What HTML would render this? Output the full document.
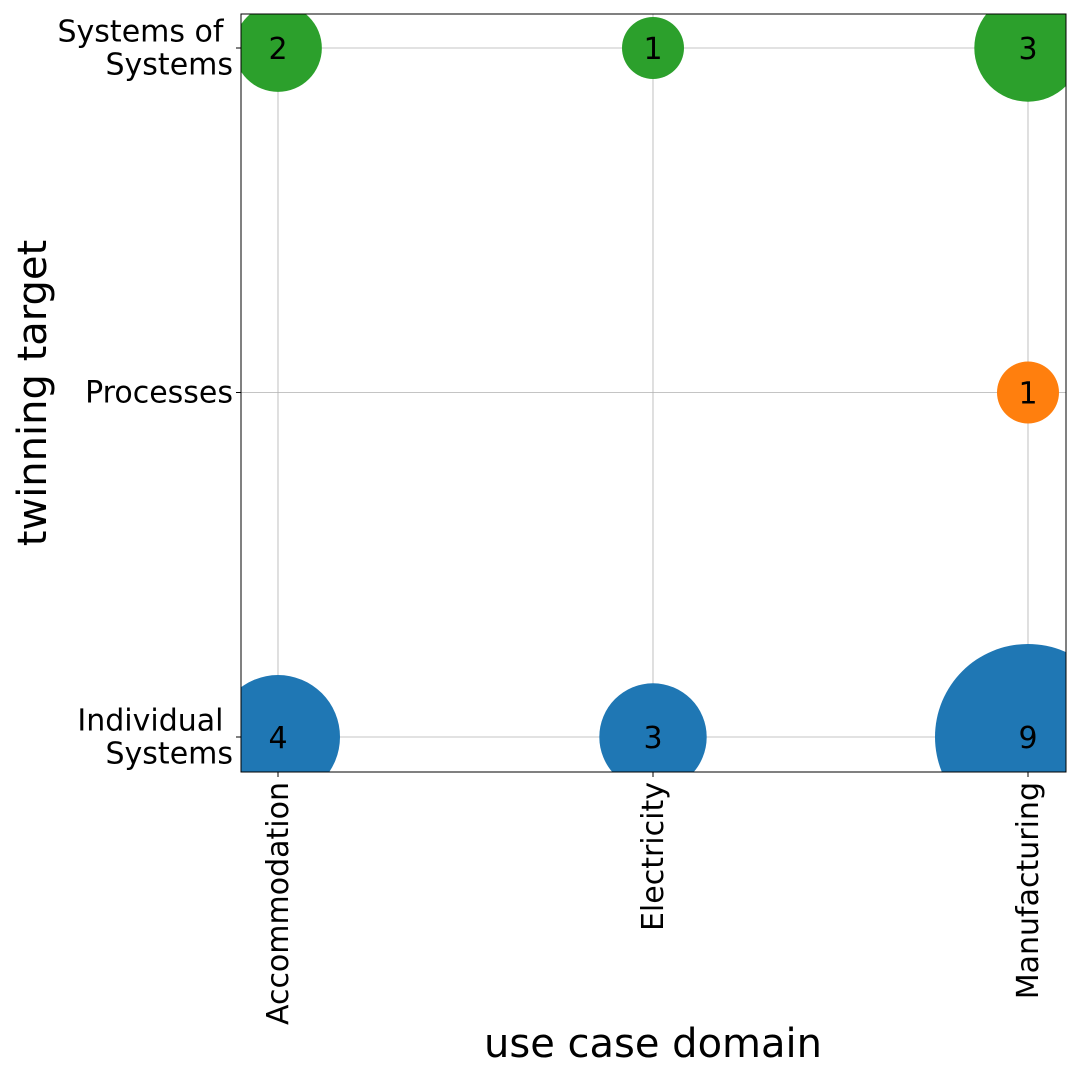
<!DOCTYPE html>
<html><head><meta charset="utf-8"><style>
html,body{margin:0;padding:0;background:#fff;}
svg{display:block;font-family:"DejaVu Sans","Liberation Sans",sans-serif;}
</style></head><body>
<svg id="chart" width="1080" height="1080" viewBox="0 0 1080 1080">
<defs><clipPath id="plotclip"><rect x="241" y="14" width="825" height="758"/></clipPath></defs>
<rect x="0" y="0" width="1080" height="1080" fill="#fff"/>
<g id="grid"></g>
<g id="marks" clip-path="url(#plotclip)"></g>
<g id="labels"></g>
<rect x="241" y="14" width="825" height="758" fill="none" stroke="#000" stroke-width="1"/>
<g id="xticks"></g>
<g id="yticks"></g>
<text x="653" y="1057" font-size="40" text-anchor="middle">use case domain</text>
<text transform="translate(46,393) rotate(-90)" font-size="40" text-anchor="middle">twinning target</text>
</svg>
<script>
const xCategories = ["Accommodation","Electricity","Manufacturing"];
const yCategories = ["Individual Systems","Processes","Systems of Systems"];
const yTickLines = [["Individual ","Systems"],["Processes"],["Systems of ","Systems"]];
const pointX = ["Accommodation","Electricity","Manufacturing","Manufacturing","Accommodation","Electricity","Manufacturing"];
const pointY = ["Systems of Systems","Systems of Systems","Systems of Systems","Processes","Individual Systems","Individual Systems","Individual Systems"];
const pointCount = [2,1,3,1,4,3,9];
const colorByY = {"Individual Systems":"#1f77b4","Processes":"#ff7f0e","Systems of Systems":"#2ca02c"};

const NS="http://www.w3.org/2000/svg";
function xScale(c){return 278 + xCategories.indexOf(c)*375;}
function yScale(c){return 737 - yCategories.indexOf(c)*344.5;}
function rScale(n){return 31*Math.sqrt(n);}
function mk(tag,attrs,parent){const e=document.createElementNS(NS,tag);for(const k in attrs)e.setAttribute(k,attrs[k]);parent.appendChild(e);return e;}

const grid=document.getElementById('grid'),marks=document.getElementById('marks'),labels=document.getElementById('labels'),xt=document.getElementById('xticks'),yt=document.getElementById('yticks');
xCategories.forEach(c=>{
  const x=xScale(c);
  const gl=mk('line',{x1:x,x2:x,y1:14,y2:772,stroke:'#b0b0b0','stroke-width':0.8},grid);
  
  
  mk('line',{x1:x,x2:x,y1:772,y2:777,stroke:'#000'},xt);
  const t=mk('text',{transform:`translate(${x+10},782) rotate(-90)`,'font-size':30,'text-anchor':'end'},xt);
  t.textContent=c;
  
  
});
yCategories.forEach((c,i)=>{
  const y=yScale(c);
  const gl=mk('line',{x1:241,x2:1066,y1:y,y2:y,stroke:'#b0b0b0','stroke-width':0.8},grid);
  
  
  mk('line',{x1:236,x2:241,y1:y,y2:y,stroke:'#000'},yt);
  const lines=yTickLines[i];
  const t=mk('text',{'font-size':30,'text-anchor':'end'},yt);
  
  
  const start=y+10-(lines.length-1)*16.5;
  lines.forEach((l,j)=>{const s=mk('tspan',{x:233,y:start+j*33},t);s.textContent=l;});
  t.setAttribute('style','white-space:pre');
});
pointCount.forEach((n,i)=>{
  const cx=xScale(pointX[i]),cy=yScale(pointY[i]);
  const c=mk('circle',{cx:cx,cy:cy,r:rScale(n),fill:colorByY[pointY[i]]},marks);
  
  
  const t=mk('text',{x:cx,y:cy+11,'font-size':30,'text-anchor':'middle',fill:'#000'},labels);
  t.textContent=n;
  
  
});
</script>
</body></html>
